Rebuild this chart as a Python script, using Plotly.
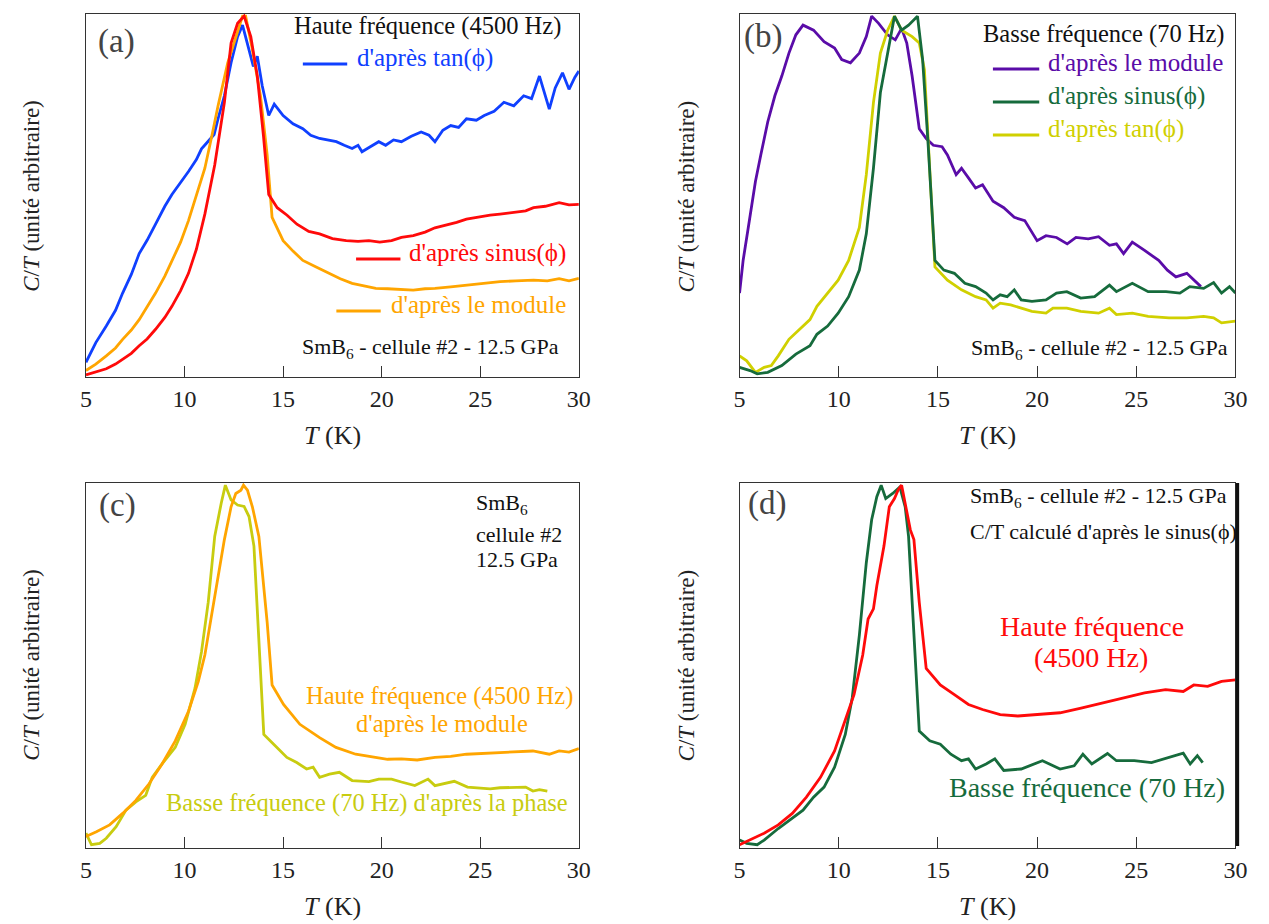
import plotly.graph_objects as go

# ---- panel (a): haute fréquence (4500 Hz) ----
a_tan_T = [5.0, 5.5, 6.03, 6.5, 6.86, 7.3, 7.7, 8.1, 8.53, 9.0, 9.36, 9.8, 10.2, 10.6, 10.86, 11.1, 11.36, 11.5,
           11.7, 12.02, 12.36, 12.69, 12.94, 13.19, 13.49, 13.69, 13.94, 14.27, 14.55, 15.0, 15.5, 16.0, 16.4,
           16.85, 17.3, 17.7, 18.1, 18.5, 18.8, 19.0, 19.4, 19.85, 20.2, 20.6, 21.0, 21.5, 22.0, 22.4, 22.7,
           23.1, 23.5, 23.9, 24.3, 24.8, 25.2, 25.7, 26.2, 26.7, 27.2, 27.6, 28.0, 28.3, 28.5, 28.8, 29.17,
           29.5, 29.8, 30.0]
a_tan_y = [0.035, 0.09, 0.136, 0.18, 0.228, 0.28, 0.338, 0.375, 0.42, 0.47, 0.503, 0.535, 0.567, 0.6, 0.63, 0.645,
           0.663, 0.67, 0.714, 0.778, 0.87, 0.943, 0.975, 0.925, 0.86, 0.888, 0.806, 0.723, 0.755, 0.723, 0.7,
           0.686, 0.668, 0.659, 0.655, 0.65, 0.64, 0.631, 0.64, 0.622, 0.635, 0.65, 0.64, 0.655, 0.65, 0.665,
           0.677, 0.668, 0.65, 0.682, 0.695, 0.69, 0.714, 0.71, 0.723, 0.735, 0.76, 0.75, 0.778, 0.77, 0.833,
           0.78, 0.741, 0.8, 0.842, 0.796, 0.83, 0.847]

a_sin_T = [5.0, 5.5, 6.03, 6.5, 6.86, 7.3, 7.7, 8.1, 8.53, 9.0, 9.36, 9.8, 10.2, 10.6, 11.03, 11.53, 12.02, 12.36,
           12.69, 13.02, 13.36, 13.69, 14.0, 14.27, 14.7, 15.2, 15.7, 16.3, 16.85, 17.5, 18.2, 18.8, 19.35, 19.9,
           20.5, 21.0, 21.6, 22.2, 22.7, 23.3, 23.8, 24.3, 24.9, 25.5, 26.0, 26.6, 27.3, 27.7, 28.3, 29.0, 29.5,
           30.0]
a_sin_y = [0.0, 0.008, 0.017, 0.03, 0.044, 0.06, 0.081, 0.1, 0.127, 0.16, 0.191, 0.235, 0.283, 0.35, 0.448, 0.585,
           0.759, 0.925, 0.98, 1.0, 0.943, 0.833, 0.668, 0.503, 0.466, 0.445, 0.42, 0.4, 0.393, 0.38, 0.374, 0.372,
           0.374, 0.37, 0.374, 0.383, 0.388, 0.398, 0.41, 0.418, 0.425, 0.434, 0.44, 0.445, 0.448, 0.452, 0.457,
           0.466, 0.47, 0.48, 0.474, 0.475]

a_mod_T = [5.0, 5.5, 6.03, 6.5, 6.86, 7.3, 7.7, 8.1, 8.53, 9.0, 9.36, 9.8, 10.2, 10.6, 11.03, 11.4, 11.7, 12.19,
           12.69, 12.94, 13.1, 13.44, 13.85, 14.19, 14.44, 15.0, 15.5, 16.0, 16.7, 17.35, 17.9, 18.5, 19.1, 19.7,
           20.3, 21.0, 21.6, 22.2, 22.7, 23.5, 24.3, 25.1, 26.0, 26.8, 27.7, 28.4, 29.0, 29.5, 30.0]
a_mod_y = [0.012, 0.03, 0.053, 0.075, 0.099, 0.125, 0.154, 0.19, 0.228, 0.275, 0.319, 0.37, 0.43, 0.5, 0.576, 0.67,
           0.75, 0.87, 0.96, 1.0, 1.0, 0.907, 0.778, 0.613, 0.439, 0.374, 0.345, 0.319, 0.3, 0.283, 0.268, 0.255,
           0.248, 0.241, 0.24, 0.237, 0.236, 0.24, 0.241, 0.245, 0.25, 0.255, 0.26, 0.262, 0.264, 0.262, 0.268,
           0.262, 0.269]

# ---- panel (b): basse fréquence (70 Hz) ----
b_mod_T = [5.0, 5.18, 5.44, 5.8, 6.07, 6.42, 6.78, 7.13, 7.49, 7.84, 8.2, 8.73, 9.26, 9.79, 10.15, 10.59, 11.04,
           11.39, 11.66, 12.01, 12.46, 12.85, 13.17, 13.43, 13.7, 14.06, 14.41, 14.77, 15.21, 15.48, 15.92, 16.19,
           16.54, 16.9, 17.25, 17.78, 18.32, 18.85, 19.38, 20.0, 20.45, 20.98, 21.52, 21.96, 22.58, 23.1, 23.65,
           24.0, 24.36, 24.8, 25.42, 26.13, 26.57, 27.0, 27.55, 28.26]
b_mod_y = [0.228, 0.319, 0.411, 0.539, 0.613, 0.705, 0.778, 0.833, 0.897, 0.948, 0.975, 0.961, 0.929, 0.911, 0.879,
           0.87, 0.897, 0.943, 1.0, 0.98, 0.948, 0.934, 0.966, 0.925, 0.833, 0.686, 0.659, 0.64, 0.636, 0.613,
           0.558, 0.576, 0.549, 0.521, 0.53, 0.484, 0.466, 0.439, 0.43, 0.374, 0.388, 0.383, 0.365, 0.383, 0.379,
           0.385, 0.361, 0.365, 0.338, 0.37, 0.347, 0.319, 0.292, 0.273, 0.283, 0.246]

b_sin_T = [5.0, 5.53, 5.89, 6.42, 7.13, 7.84, 8.55, 8.9, 9.44, 9.97, 10.5, 11.04, 11.39, 11.75, 12.1, 12.46, 12.81,
           13.17, 13.52, 13.97, 14.23, 14.5, 14.85, 15.3, 15.83, 16.36, 16.9, 17.43, 17.78, 18.14, 18.49, 18.85,
           19.2, 19.74, 20.45, 20.98, 21.5, 22.2, 22.9, 23.65, 24.0, 24.8, 25.6, 26.5, 27.2, 27.7, 28.4, 28.9,
           29.3, 29.7, 30.0]
b_sin_y = [0.021, 0.012, 0.003, 0.007, 0.026, 0.058, 0.081, 0.113, 0.136, 0.172, 0.218, 0.292, 0.393, 0.576, 0.787,
           0.897, 1.0, 0.961, 0.975, 1.0, 0.879, 0.649, 0.319, 0.292, 0.283, 0.255, 0.246, 0.228, 0.209, 0.223,
           0.218, 0.237, 0.209, 0.205, 0.209, 0.228, 0.232, 0.214, 0.218, 0.25, 0.232, 0.255, 0.232, 0.232, 0.228,
           0.246, 0.241, 0.257, 0.228, 0.246, 0.228]

b_tan_T = [5.0, 5.36, 5.8, 6.24, 6.6, 6.95, 7.49, 8.02, 8.55, 8.9, 9.44, 9.97, 10.5, 11.04, 11.39, 11.75, 12.1,
           12.46, 12.81, 13.17, 13.7, 14.06, 14.32, 14.6, 14.85, 15.48, 16.19, 16.9, 17.43, 17.78, 18.14, 18.67,
           19.2, 19.74, 20.45, 20.8, 21.5, 22.2, 23.1, 23.65, 24.0, 24.8, 25.6, 26.65, 27.55, 28.4, 28.9, 29.3, 30.0]
b_tan_y = [0.053, 0.039, 0.007, 0.021, 0.026, 0.053, 0.099, 0.127, 0.154, 0.191, 0.228, 0.264, 0.319, 0.411, 0.558,
           0.759, 0.897, 0.96, 1.0, 0.961, 0.943, 0.925, 0.851, 0.558, 0.301, 0.264, 0.237, 0.218, 0.209, 0.186,
           0.2, 0.195, 0.186, 0.177, 0.172, 0.186, 0.186, 0.177, 0.172, 0.186, 0.168, 0.172, 0.163, 0.159, 0.159,
           0.163, 0.159, 0.145, 0.15]

# ---- panel (c): comparaison HF module / BF phase ----
c_hf_T = [5.0, 5.53, 6.2, 6.86, 7.53, 8.2, 8.86, 9.53, 10.2, 10.7, 11.03, 11.36, 11.7, 12.02, 12.36, 12.6, 12.86,
          12.99, 13.19, 13.44, 13.77, 14.19, 14.44, 15.02, 15.85, 16.85, 17.68, 18.68, 19.68, 20.3, 21.0, 21.8,
          22.7, 23.5, 24.3, 25.2, 26.0, 26.8, 27.67, 28.5, 29.0, 29.5, 30.0]
c_hf_y = [0.026, 0.039, 0.058, 0.09, 0.126, 0.172, 0.227, 0.291, 0.373, 0.456, 0.529, 0.639, 0.748, 0.849, 0.94,
          0.977, 0.986, 1.0, 0.986, 0.94, 0.858, 0.62, 0.446, 0.392, 0.337, 0.3, 0.273, 0.254, 0.245, 0.24, 0.241,
          0.238, 0.245, 0.248, 0.254, 0.256, 0.259, 0.26, 0.263, 0.254, 0.263, 0.26, 0.27]

c_bf_T = [5.0, 5.28, 5.7, 6.03, 6.53, 7.03, 7.53, 8.03, 8.36, 8.86, 9.53, 10.03, 10.53, 10.86, 11.2, 11.53, 11.86,
          12.07, 12.36, 12.69, 13.02, 13.27, 13.52, 13.77, 14.02, 14.52, 15.19, 15.69, 16.19, 16.52, 16.85, 17.35,
          17.85, 18.5, 19.35, 19.85, 20.5, 21.0, 21.68, 22.35, 22.7, 23.68, 24.35, 25.5, 26.0, 27.3, 27.67, 28.0,
          28.4]
c_bf_y = [0.035, 0.003, 0.007, 0.021, 0.053, 0.099, 0.122, 0.14, 0.19, 0.227, 0.273, 0.337, 0.437, 0.538, 0.675,
          0.858, 0.95, 1.0, 0.959, 0.945, 0.941, 0.913, 0.831, 0.584, 0.309, 0.282, 0.245, 0.231, 0.213, 0.218,
          0.19, 0.199, 0.204, 0.181, 0.178, 0.185, 0.185, 0.177, 0.167, 0.185, 0.167, 0.179, 0.163, 0.158, 0.161,
          0.163, 0.152, 0.156, 0.152]

# ---- panel (d): C/T d'après le sinus(phi), HF et BF ----
d_hf_T = [5.0, 5.53, 6.24, 6.95, 7.66, 8.37, 9.08, 9.79, 10.33, 10.77, 11.21, 11.48, 11.75, 11.92, 12.28, 12.55,
          12.81, 12.99, 13.17, 13.35, 13.61, 13.79, 14.06, 14.41, 15.12, 15.83, 16.54, 17.25, 18.14, 19.03, 20.09,
          21.16, 22.22, 23.29, 24.35, 25.42, 26.48, 27.37, 27.9, 28.6, 29.3, 30.0]
d_hf_y = [0.003, 0.016, 0.035, 0.058, 0.09, 0.135, 0.19, 0.263, 0.346, 0.419, 0.529, 0.629, 0.657, 0.721, 0.831,
          0.94, 0.963, 0.986, 1.0, 0.95, 0.876, 0.849, 0.675, 0.492, 0.446, 0.419, 0.392, 0.378, 0.364, 0.36,
          0.364, 0.369, 0.382, 0.396, 0.41, 0.424, 0.433, 0.428, 0.446, 0.442, 0.456, 0.46]

d_bf_T = [5.0, 5.36, 5.89, 6.24, 6.95, 7.66, 8.2, 8.73, 9.26, 9.79, 10.33, 10.68, 11.04, 11.39, 11.66, 11.92, 12.14,
          12.37, 12.72, 13.08, 13.35, 13.52, 13.79, 14.06, 14.59, 15.12, 15.65, 16.19, 16.54, 16.9, 17.43, 17.87,
          18.32, 19.2, 20.27, 21.16, 21.87, 22.31, 22.76, 23.55, 24.0, 24.9, 25.77, 26.65, 27.37, 27.72, 28.08,
          28.35]
d_bf_y = [0.016, 0.007, 0.003, 0.016, 0.048, 0.076, 0.099, 0.135, 0.163, 0.218, 0.309, 0.41, 0.584, 0.785, 0.904,
          0.968, 1.0, 0.963, 0.977, 0.995, 0.94, 0.858, 0.584, 0.318, 0.291, 0.282, 0.254, 0.236, 0.241, 0.213,
          0.227, 0.241, 0.209, 0.213, 0.236, 0.213, 0.222, 0.254, 0.227, 0.256, 0.236, 0.236, 0.231, 0.245, 0.257,
          0.227, 0.25, 0.231]

x_ticks = [5, 10, 15, 20, 25, 30]

BLUE = "#1040ff"
RED = "#ff0a0a"
ORANGE = "#ffa500"
PURPLE = "#5a0ca8"
GREEN = "#166b3c"
YELLOW = "#d0d000"
YGREEN = "#c8cc10"

W, H = 1269, 924
FONT = "Liberation Serif"


def px(x):
    return x / W


def py(y):
    return 1 - y / H


# panel boxes in pixels: left, right, top, bottom
boxes = {
    "": (73, 573, 6, 369),
    "2": (736, 1239, 6, 369),
    "3": (73, 573, 475, 840),
    "4": (736, 1239, 475, 840),
}

fig = go.Figure()

series = [
    ("", a_tan_T, a_tan_y, BLUE),
    ("", a_mod_T, a_mod_y, ORANGE),
    ("", a_sin_T, a_sin_y, RED),
    ("2", b_mod_T, b_mod_y, PURPLE),
    ("2", b_tan_T, b_tan_y, YELLOW),
    ("2", b_sin_T, b_sin_y, GREEN),
    ("3", c_bf_T, c_bf_y, YGREEN),
    ("3", c_hf_T, c_hf_y, ORANGE),
    ("4", d_bf_T, d_bf_y, GREEN),
    ("4", d_hf_T, d_hf_y, RED),
]
for ax, xs, ys, col in series:
    fig.add_trace(go.Scatter(x=xs, y=ys, mode="lines", line=dict(color=col, width=2.8),
                             xaxis="x" + ax, yaxis="y" + ax, showlegend=False, hoverinfo="skip"))

layout = dict(width=W, height=H, margin=dict(l=0, r=0, t=0, b=0),
              paper_bgcolor="white", plot_bgcolor="white", showlegend=False,
              font=dict(family=FONT, color="#222222"))
for ax, (l, r, t, b) in boxes.items():
    layout["xaxis" + ax] = dict(domain=[px(l), px(r)], range=[5, 30], anchor="y" + ax,
                                tickvals=x_ticks, ticks="inside", ticklen=11, tickcolor="#333333",
                                showline=True, linecolor="#333333", linewidth=1, mirror=True,
                                showgrid=False, zeroline=False,
                                tickfont=dict(family=FONT, size=24, color="#222222"))
    layout["yaxis" + ax] = dict(domain=[py(b), py(t)], range=[-0.006, 1.006], anchor="x" + ax,
                                showticklabels=False, ticks="", showline=True, linecolor="#333333",
                                linewidth=1, mirror=True, showgrid=False, zeroline=False)
fig.update_layout(**layout)


def note(x, y, text, color="#111111", size=23, xanchor="left", angle=0):
    # annotations render a bit below their anchor; shift so the glyphs sit at (x, y)
    if angle == 0:
        y = y - 0.3 * size
    else:
        x = x - 0.3 * size
    fig.add_annotation(x=px(x), y=py(y), xref="paper", yref="paper", text=text, showarrow=False,
                       xanchor=xanchor, yanchor="middle", textangle=angle,
                       font=dict(family=FONT, size=size, color=color))


def legend_line(x0, x1, y, color):
    fig.add_shape(type="line", xref="paper", yref="paper", x0=px(x0), x1=px(x1), y0=py(y), y1=py(y),
                  line=dict(color=color, width=3))


ytitle = "<i>C</i>/<i>T</i> (unité arbitraire)"
xtitle = "<i>T</i> (K)"
for cx, cy in [(24, 188), (689, 188), (24, 657), (689, 657)]:
    note(cx, cy, ytitle, xanchor="center", angle=-90, color="#222222")
for cx, cy in [(323, 435), (987, 435), (323, 906), (987, 906)]:
    note(cx, cy, xtitle, size=26, xanchor="center", color="#222222")

# panel labels
note(104, 43, "(a)", color="#444444", size=33, xanchor="center")
note(760, 38, "(b)", color="#444444", size=33, xanchor="center")
note(105, 507, "(c)", color="#444444", size=33, xanchor="center")
note(764, 505, "(d)", color="#444444", size=33, xanchor="center")

smb = "SmB<sub>6</sub> - cellule #2 - 12.5 GPa"
HS = 24.5
LS = 25

# (a)
note(557, 25, "Haute fréquence (4500 Hz)", size=HS, xanchor="right")
legend_line(293, 338, 56, BLUE)
note(346, 57, "d'après tan(ϕ)", color=BLUE, size=LS)
legend_line(347, 392, 251, RED)
note(399, 252, "d'après sinus(ϕ)", color=RED, size=LS)
legend_line(327, 372, 303, ORANGE)
note(380, 304, "d'après le module", color=ORANGE, size=LS)
note(290, 347, smb, size=22)

# (b)
note(1229, 33, "Basse fréquence (70 Hz)", size=HS, xanchor="right")
legend_line(993, 1040, 61, PURPLE)
note(1047, 62, "d'après le module", color=PURPLE, size=LS)
legend_line(993, 1040, 94, GREEN)
note(1047, 95, "d'après sinus(ϕ)", color=GREEN, size=LS)
legend_line(993, 1040, 127, YELLOW)
note(1047, 128, "d'après tan(ϕ)", color=YELLOW, size=LS)
note(969, 348, smb, size=22)

# (c)
note(467, 503, "SmB<sub>6</sub>", size=22)
note(467, 533, "cellule #2", size=22)
note(467, 558, "12.5 GPa", size=22)
note(432, 695, "Haute fréquence (4500 Hz)", color=ORANGE, size=HS, xanchor="center")
note(434, 723, "d'après le module", color=ORANGE, size=HS, xanchor="center")
note(358, 802, "Basse fréquence (70 Hz) d'après la phase", color=YGREEN, size=HS, xanchor="center")

# (d)
note(968, 496, smb, size=22)
note(968, 530, "C/T calculé d'après le sinus(ϕ)", size=22)
note(1094, 627, "Haute fréquence", color=RED, size=28, xanchor="center")
note(1093, 658, "(4500 Hz)", color=RED, size=28, xanchor="center")
note(1088, 788, "Basse fréquence (70 Hz)", color=GREEN, size=28, xanchor="center")

# thick right border seen on panel (d)
fig.add_shape(type="line", xref="paper", yref="paper", x0=px(1241), x1=px(1241), y0=py(838), y1=py(475),
              line=dict(color="#111111", width=3.5))

fig.write_html("out.html")
